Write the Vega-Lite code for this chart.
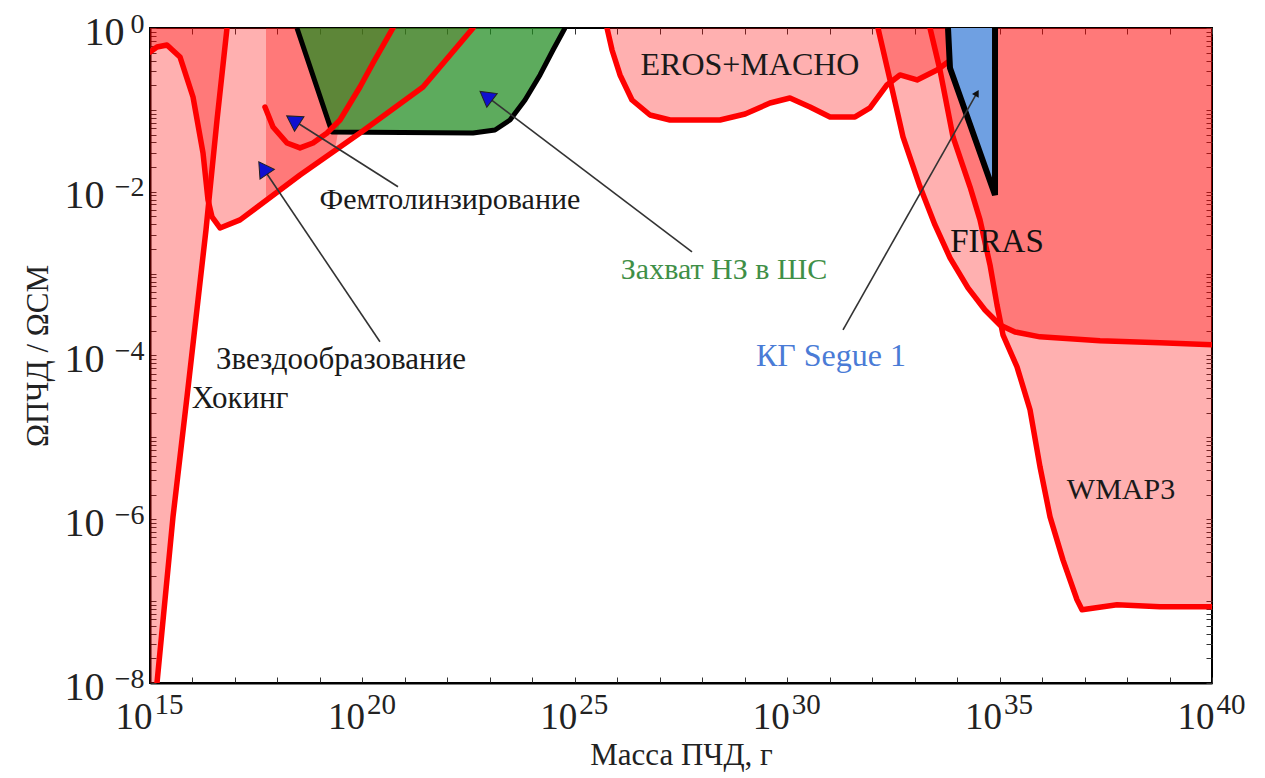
{
  "$schema": "https://vega.github.io/schema/vega-lite/v6.json",
  "width": 1062,
  "height": 655,
  "autosize": {"type": "none"},
  "padding": {"left": 150, "top": 28, "right": 53, "bottom": 95},
  "background": "white",
  "config": {
    "view": {"stroke": "black", "strokeWidth": 2},
    "axis": {"labelFont": "Liberation Serif", "titleFont": "Liberation Serif", "labelColor": "#222", "titleColor": "#222", "titleFontWeight": "normal", "grid": false, "domainColor": "black", "domainWidth": 2, "tickColor": "#333", "tickWidth": 1, "labelOverlap": false, "labelFlush": false, "labelBound": false}
  },
  "resolve": {"axis": {"x": "independent", "y": "independent"}},
  "datasets": {
    "polys": [
      {"poly": "hawk", "i": 0, "m": 1e15, "o": 1e-8},
      {"poly": "hawk", "i": 1, "m": 1.46e15, "o": 1e-8},
      {"poly": "hawk", "i": 2, "m": 3.48e15, "o": 1.07e-6},
      {"poly": "hawk", "i": 3, "m": 7.43e15, "o": 3.12e-5},
      {"poly": "hawk", "i": 4, "m": 1.35e16, "o": 4.77e-4},
      {"poly": "hawk", "i": 5, "m": 2.08e16, "o": 3.42e-3},
      {"poly": "hawk", "i": 6, "m": 2.58e16, "o": 1.05e-2},
      {"poly": "hawk", "i": 7, "m": 3.78e16, "o": 7.53e-2},
      {"poly": "hawk", "i": 8, "m": 6.5e16, "o": 1},
      {"poly": "hawk", "i": 9, "m": 1e15, "o": 1},
      {"poly": "sf", "i": 0, "m": 1e15, "o": 1},
      {"poly": "sf", "i": 1, "m": 1e15, "o": 0.509},
      {"poly": "sf", "i": 2, "m": 1.46e15, "o": 0.586},
      {"poly": "sf", "i": 3, "m": 2.51e15, "o": 0.62},
      {"poly": "sf", "i": 4, "m": 5.08e15, "o": 0.443},
      {"poly": "sf", "i": 5, "m": 1.03e16, "o": 0.1437},
      {"poly": "sf", "i": 6, "m": 1.77e16, "o": 2.98e-2},
      {"poly": "sf", "i": 7, "m": 2.32e16, "o": 7.94e-3},
      {"poly": "sf", "i": 8, "m": 2.88e16, "o": 4.92e-3},
      {"poly": "sf", "i": 9, "m": 4.45e16, "o": 3.61e-3},
      {"poly": "sf", "i": 10, "m": 1.32e17, "o": 4.53e-3},
      {"poly": "sf", "i": 11, "m": 3.4e18, "o": 1.6e-2},
      {"poly": "sf", "i": 12, "m": 8.77e19, "o": 5.22e-2},
      {"poly": "sf", "i": 13, "m": 2.67e21, "o": 0.1905},
      {"poly": "sf", "i": 14, "m": 4.02e22, "o": 1},
      {"poly": "femto", "i": 0, "m": 5.38e17, "o": 1},
      {"poly": "femto", "i": 1, "m": 5.38e17, "o": 7.72e-3},
      {"poly": "femto", "i": 2, "m": 2.26e19, "o": 3.24e-2},
      {"poly": "femto", "i": 3, "m": 2.97e19, "o": 7.53e-2},
      {"poly": "femto", "i": 4, "m": 8.77e19, "o": 0.1905},
      {"poly": "femto", "i": 5, "m": 1.78e20, "o": 0.374},
      {"poly": "femto", "i": 6, "m": 5.25e20, "o": 1},
      {"poly": "eros", "i": 0, "m": 5.73e25, "o": 1},
      {"poly": "eros", "i": 1, "m": 7.52e25, "o": 0.539},
      {"poly": "eros", "i": 2, "m": 1.16e26, "o": 0.267},
      {"poly": "eros", "i": 3, "m": 2.22e26, "o": 0.132},
      {"poly": "eros", "i": 4, "m": 5.89e26, "o": 8.66e-2},
      {"poly": "eros", "i": 5, "m": 1.74e27, "o": 7.53e-2},
      {"poly": "eros", "i": 6, "m": 2.62e28, "o": 7.53e-2},
      {"poly": "eros", "i": 7, "m": 1.02e29, "o": 8.91e-2},
      {"poly": "eros", "i": 8, "m": 3.94e29, "o": 0.1214},
      {"poly": "eros", "i": 9, "m": 1.16e30, "o": 0.1397},
      {"poly": "eros", "i": 10, "m": 3.44e30, "o": 0.1085},
      {"poly": "eros", "i": 11, "m": 1.02e31, "o": 8.19e-2},
      {"poly": "eros", "i": 12, "m": 3.95e31, "o": 8.19e-2},
      {"poly": "eros", "i": 13, "m": 8.89e31, "o": 0.1055},
      {"poly": "eros", "i": 14, "m": 2.23e32, "o": 0.2014},
      {"poly": "eros", "i": 15, "m": 4.52e32, "o": 0.267},
      {"poly": "eros", "i": 16, "m": 1.14e33, "o": 0.232},
      {"poly": "eros", "i": 17, "m": 3.36e33, "o": 0.307},
      {"poly": "eros", "i": 18, "m": 6.1e33, "o": 0.385},
      {"poly": "eros", "i": 19, "m": 6.1e33, "o": 1},
      {"poly": "firas", "i": 0, "m": 1.37e32, "o": 1},
      {"poly": "firas", "i": 1, "m": 2.63e32, "o": 0.232},
      {"poly": "firas", "i": 2, "m": 5.32e32, "o": 4.67e-2},
      {"poly": "firas", "i": 3, "m": 1.34e33, "o": 1.15e-2},
      {"poly": "firas", "i": 4, "m": 3.01e33, "o": 3.93e-3},
      {"poly": "firas", "i": 5, "m": 6.79e33, "o": 1.56e-3},
      {"poly": "firas", "i": 6, "m": 1.8e34, "o": 6.69e-4},
      {"poly": "firas", "i": 7, "m": 4.53e34, "o": 3.6e-4},
      {"poly": "firas", "i": 8, "m": 1.02e35, "o": 2.36e-4},
      {"poly": "firas", "i": 9, "m": 2.31e35, "o": 1.94e-4},
      {"poly": "firas", "i": 10, "m": 8.94e35, "o": 1.69e-4},
      {"poly": "firas", "i": 11, "m": 2.31e37, "o": 1.51e-4},
      {"poly": "firas", "i": 12, "m": 5.97e38, "o": 1.43e-4},
      {"poly": "firas", "i": 13, "m": 1e40, "o": 1.35e-4},
      {"poly": "firas", "i": 14, "m": 1e40, "o": 1},
      {"poly": "wmap", "i": 0, "m": 2.3e33, "o": 1},
      {"poly": "wmap", "i": 1, "m": 3.95e33, "o": 0.307},
      {"poly": "wmap", "i": 2, "m": 8.0e33, "o": 4.67e-2},
      {"poly": "wmap", "i": 3, "m": 2.01e34, "o": 1.15e-2},
      {"poly": "wmap", "i": 4, "m": 3.46e34, "o": 4.53e-3},
      {"poly": "wmap", "i": 5, "m": 5.94e34, "o": 1.28e-3},
      {"poly": "wmap", "i": 6, "m": 8.69e34, "o": 4.15e-4},
      {"poly": "wmap", "i": 7, "m": 1.2e35, "o": 1.79e-4},
      {"poly": "wmap", "i": 8, "m": 2.57e35, "o": 7.26e-5},
      {"poly": "wmap", "i": 9, "m": 5.2e35, "o": 2.17e-5},
      {"poly": "wmap", "i": 10, "m": 8.94e35, "o": 4.36e-6},
      {"poly": "wmap", "i": 11, "m": 1.54e36, "o": 1.07e-6},
      {"poly": "wmap", "i": 12, "m": 3.1e36, "o": 3.19e-7},
      {"poly": "wmap", "i": 13, "m": 6.64e36, "o": 1.04e-7},
      {"poly": "wmap", "i": 14, "m": 8.71e36, "o": 7.83e-8},
      {"poly": "wmap", "i": 15, "m": 5.81e37, "o": 9.02e-8},
      {"poly": "wmap", "i": 16, "m": 5.97e38, "o": 8.51e-8},
      {"poly": "wmap", "i": 17, "m": 1e40, "o": 8.51e-8},
      {"poly": "wmap", "i": 18, "m": 1e40, "o": 1}
    ],
    "lines": [
      {"line": "hawk", "i": 0, "m": 1.46e15, "o": 1e-8},
      {"line": "hawk", "i": 1, "m": 3.48e15, "o": 1.07e-6},
      {"line": "hawk", "i": 2, "m": 7.43e15, "o": 3.12e-5},
      {"line": "hawk", "i": 3, "m": 1.35e16, "o": 4.77e-4},
      {"line": "hawk", "i": 4, "m": 2.08e16, "o": 3.42e-3},
      {"line": "hawk", "i": 5, "m": 2.58e16, "o": 1.05e-2},
      {"line": "hawk", "i": 6, "m": 3.78e16, "o": 7.53e-2},
      {"line": "hawk", "i": 7, "m": 6.5e16, "o": 1},
      {"line": "sf", "i": 0, "m": 1e15, "o": 0.509},
      {"line": "sf", "i": 1, "m": 1.46e15, "o": 0.586},
      {"line": "sf", "i": 2, "m": 2.51e15, "o": 0.62},
      {"line": "sf", "i": 3, "m": 5.08e15, "o": 0.443},
      {"line": "sf", "i": 4, "m": 1.03e16, "o": 0.1437},
      {"line": "sf", "i": 5, "m": 1.77e16, "o": 2.98e-2},
      {"line": "sf", "i": 6, "m": 2.32e16, "o": 7.94e-3},
      {"line": "sf", "i": 7, "m": 2.88e16, "o": 4.92e-3},
      {"line": "sf", "i": 8, "m": 4.45e16, "o": 3.61e-3},
      {"line": "sf", "i": 9, "m": 1.32e17, "o": 4.53e-3},
      {"line": "sf", "i": 10, "m": 3.4e18, "o": 1.6e-2},
      {"line": "sf", "i": 11, "m": 8.77e19, "o": 5.22e-2},
      {"line": "sf", "i": 12, "m": 2.67e21, "o": 0.1905},
      {"line": "sf", "i": 13, "m": 4.02e22, "o": 1},
      {"line": "femto", "i": 0, "m": 5.09e17, "o": 0.1085},
      {"line": "femto", "i": 1, "m": 7.87e17, "o": 6.18e-2},
      {"line": "femto", "i": 2, "m": 1.68e18, "o": 3.94e-2},
      {"line": "femto", "i": 3, "m": 3.4e18, "o": 3.43e-2},
      {"line": "femto", "i": 4, "m": 6.87e18, "o": 3.94e-2},
      {"line": "femto", "i": 5, "m": 1.47e19, "o": 5.22e-2},
      {"line": "femto", "i": 6, "m": 2.97e19, "o": 7.53e-2},
      {"line": "femto", "i": 7, "m": 8.77e19, "o": 0.1905},
      {"line": "femto", "i": 8, "m": 1.78e20, "o": 0.374},
      {"line": "femto", "i": 9, "m": 5.25e20, "o": 1},
      {"line": "eros", "i": 0, "m": 5.73e25, "o": 1},
      {"line": "eros", "i": 1, "m": 7.52e25, "o": 0.539},
      {"line": "eros", "i": 2, "m": 1.16e26, "o": 0.267},
      {"line": "eros", "i": 3, "m": 2.22e26, "o": 0.132},
      {"line": "eros", "i": 4, "m": 5.89e26, "o": 8.66e-2},
      {"line": "eros", "i": 5, "m": 1.74e27, "o": 7.53e-2},
      {"line": "eros", "i": 6, "m": 2.62e28, "o": 7.53e-2},
      {"line": "eros", "i": 7, "m": 1.02e29, "o": 8.91e-2},
      {"line": "eros", "i": 8, "m": 3.94e29, "o": 0.1214},
      {"line": "eros", "i": 9, "m": 1.16e30, "o": 0.1397},
      {"line": "eros", "i": 10, "m": 3.44e30, "o": 0.1085},
      {"line": "eros", "i": 11, "m": 1.02e31, "o": 8.19e-2},
      {"line": "eros", "i": 12, "m": 3.95e31, "o": 8.19e-2},
      {"line": "eros", "i": 13, "m": 8.89e31, "o": 0.1055},
      {"line": "eros", "i": 14, "m": 2.23e32, "o": 0.2014},
      {"line": "eros", "i": 15, "m": 4.52e32, "o": 0.267},
      {"line": "eros", "i": 16, "m": 1.14e33, "o": 0.232},
      {"line": "eros", "i": 17, "m": 3.36e33, "o": 0.307},
      {"line": "eros", "i": 18, "m": 6.1e33, "o": 0.385},
      {"line": "firas", "i": 0, "m": 1.37e32, "o": 1},
      {"line": "firas", "i": 1, "m": 2.63e32, "o": 0.232},
      {"line": "firas", "i": 2, "m": 5.32e32, "o": 4.67e-2},
      {"line": "firas", "i": 3, "m": 1.34e33, "o": 1.15e-2},
      {"line": "firas", "i": 4, "m": 3.01e33, "o": 3.93e-3},
      {"line": "firas", "i": 5, "m": 6.79e33, "o": 1.56e-3},
      {"line": "firas", "i": 6, "m": 1.8e34, "o": 6.69e-4},
      {"line": "firas", "i": 7, "m": 4.53e34, "o": 3.6e-4},
      {"line": "firas", "i": 8, "m": 1.02e35, "o": 2.36e-4},
      {"line": "firas", "i": 9, "m": 2.31e35, "o": 1.94e-4},
      {"line": "firas", "i": 10, "m": 8.94e35, "o": 1.69e-4},
      {"line": "firas", "i": 11, "m": 2.31e37, "o": 1.51e-4},
      {"line": "firas", "i": 12, "m": 5.97e38, "o": 1.43e-4},
      {"line": "firas", "i": 13, "m": 1e40, "o": 1.35e-4},
      {"line": "wmap", "i": 0, "m": 2.3e33, "o": 1},
      {"line": "wmap", "i": 1, "m": 3.95e33, "o": 0.307},
      {"line": "wmap", "i": 2, "m": 8.0e33, "o": 4.67e-2},
      {"line": "wmap", "i": 3, "m": 2.01e34, "o": 1.15e-2},
      {"line": "wmap", "i": 4, "m": 3.46e34, "o": 4.53e-3},
      {"line": "wmap", "i": 5, "m": 5.94e34, "o": 1.28e-3},
      {"line": "wmap", "i": 6, "m": 8.69e34, "o": 4.15e-4},
      {"line": "wmap", "i": 7, "m": 1.2e35, "o": 1.79e-4},
      {"line": "wmap", "i": 8, "m": 2.57e35, "o": 7.26e-5},
      {"line": "wmap", "i": 9, "m": 5.2e35, "o": 2.17e-5},
      {"line": "wmap", "i": 10, "m": 8.94e35, "o": 4.36e-6},
      {"line": "wmap", "i": 11, "m": 1.54e36, "o": 1.07e-6},
      {"line": "wmap", "i": 12, "m": 3.1e36, "o": 3.19e-7},
      {"line": "wmap", "i": 13, "m": 6.64e36, "o": 1.04e-7},
      {"line": "wmap", "i": 14, "m": 8.71e36, "o": 7.83e-8},
      {"line": "wmap", "i": 15, "m": 5.81e37, "o": 9.02e-8},
      {"line": "wmap", "i": 16, "m": 5.97e38, "o": 8.51e-8},
      {"line": "wmap", "i": 17, "m": 1e40, "o": 8.51e-8}
    ],
    "ns": [
      {"i": 0, "m": 2.88e18, "o": 1},
      {"i": 1, "m": 1.92e19, "o": 5.37e-2},
      {"i": 2, "m": 4.02e22, "o": 5.22e-2},
      {"i": 3, "m": 1.32e23, "o": 5.68e-2},
      {"i": 4, "m": 2.98e23, "o": 7.53e-2},
      {"i": 5, "m": 6.73e23, "o": 0.132},
      {"i": 6, "m": 1.52e24, "o": 0.267},
      {"i": 7, "m": 3.07e24, "o": 0.539},
      {"i": 8, "m": 5.87e24, "o": 1}
    ],
    "segue": [
      {"i": 0, "m": 6.1e33, "o": 1},
      {"i": 1, "m": 6.79e33, "o": 0.325},
      {"i": 2, "m": 7.8e34, "o": 9.14e-3},
      {"i": 3, "m": 7.8e34, "o": 1}
    ],
    "arrows": [
      {"id": "sf", "m": 4.57e17, "o": 1.95e-2, "m2": 2.59e20, "o2": 1.47e-4},
      {"id": "femto", "m": 2.32e18, "o": 7.53e-2, "m2": 6.89e20, "o2": 1.15e-2},
      {"id": "ns", "m": 8.13e22, "o": 0.148, "m2": 5.74e27, "o2": 1.84e-3},
      {"id": "segue", "m": 2.94e34, "o": 0.161, "m2": 2.06e31, "o2": 2.06e-4}
    ],
    "labels": [
      {"label": "EROS+MACHO", "m": 1.33e29, "o": 0.353},
      {"label": "Фемтолинзирование", "m": 1.15e22, "o": 7.94e-3},
      {"label": "Захват НЗ в ШС", "m": 3.25e28, "o": 1.11e-3},
      {"label": "FIRAS", "m": 8.69e34, "o": 2.44e-3},
      {"label": "КГ Segue 1", "m": 1.07e31, "o": 9.89e-5},
      {"label": "Звездообразование", "m": 3.13e19, "o": 8.83e-5},
      {"label": "Хокинг", "m": 1.32e17, "o": 2.95e-5},
      {"label": "WMAP3", "m": 7.21e37, "o": 2.29e-6}
    ]
  },
  "encoding": {
    "x": {"field": "m", "type": "quantitative", "scale": {"type": "log", "domain": [1e15, 1e40], "nice": false}, "axis": null},
    "y": {"field": "o", "type": "quantitative", "scale": {"type": "log", "domain": [1e-8, 1], "nice": false}, "axis": null}
  },
  "layer": [
    {
      "data": {"name": "polys"},
      "mark": {"type": "line", "fill": "#ff0000", "fillOpacity": 0.31, "strokeWidth": 0, "strokeOpacity": 0, "clip": true},
      "encoding": {
        "x": {
          "field": "m", "type": "quantitative",
          "scale": {"type": "log", "domain": [1e15, 1e40], "nice": false},
          "axis": {
            "title": "Масса ПЧД, г", "titleFontSize": 31, "titlePadding": 5,
            "values": [1e15, 1e16, 1e17, 1e18, 1e19, 1e20, 1e21, 1e22, 1e23, 1e24, 1e25, 1e26, 1e27, 1e28, 1e29, 1e30, 1e31, 1e32, 1e33, 1e34, 1e35, 1e36, 1e37, 1e38, 1e39, 1e40],
            "labelExpr": "round(log(datum.value)/LN10)%5==0?'10':''",
            "labelFontSize": 37, "labelAlign": "right", "labelBaseline": "alphabetic", "labelOffset": 2,
            "tickSize": -6, "labelPadding": 51
          }
        },
        "y": {
          "field": "o", "type": "quantitative",
          "scale": {"type": "log", "domain": [1e-8, 1], "nice": false},
          "axis": {
            "title": "ΩПЧД / ΩСМ", "titleFontSize": 31, "titlePadding": 10,
            "values": [1e-8, 2e-8, 3e-8, 4e-8, 5e-8, 6e-8, 7e-8, 8e-8, 9e-8, 1e-7, 2e-7, 3e-7, 4e-7, 5e-7, 6e-7, 7e-7, 8e-7, 9e-7, 1e-6, 2e-6, 3e-6, 4e-6, 5e-6, 6e-6, 7e-6, 8e-6, 9e-6, 1e-5, 2e-5, 3e-5, 4e-5, 5e-5, 6e-5, 7e-5, 8e-5, 9e-5, 1e-4, 2e-4, 3e-4, 4e-4, 5e-4, 6e-4, 7e-4, 8e-4, 9e-4, 0.001, 0.002, 0.003, 0.004, 0.005, 0.006, 0.007, 0.008, 0.009, 0.01, 0.02, 0.03, 0.04, 0.05, 0.06, 0.07, 0.08, 0.09, 0.1, 0.2, 0.3, 0.4, 0.5, 0.6, 0.7, 0.8, 0.9, 1],
            "labelExpr": "(abs(log(datum.value)/LN10-round(log(datum.value)/LN10))<0.001 && round(log(datum.value)/LN10)%2==0)?'10':''",
            "labelFontSize": 40, "labelAlign": "right", "labelBaseline": "middle", "labelOffset": 4,
            "tickSize": -6,
            "labelPadding": {"condition": {"test": "datum.value > 0.5", "value": 32}, "value": 52}
          }
        },
        "detail": {"field": "poly"},
        "order": {"field": "i", "type": "quantitative"}
      }
    },
    {
      "data": {"name": "ns"},
      "mark": {"type": "line", "fill": "#1f8a1f", "fillOpacity": 0.72, "stroke": "black", "strokeWidth": 5, "strokeJoin": "round", "clip": true},
      "encoding": {"order": {"field": "i", "type": "quantitative"}}
    },
    {
      "data": {"name": "lines"},
      "mark": {"type": "line", "color": "#ff0000", "strokeWidth": 5.5, "strokeJoin": "round", "strokeCap": "round", "clip": true},
      "encoding": {"detail": {"field": "line"}, "order": {"field": "i", "type": "quantitative"}}
    },
    {
      "data": {"name": "segue"},
      "mark": {"type": "line", "fill": "#6fa0e2", "fillOpacity": 1, "stroke": "black", "strokeWidth": 6, "strokeJoin": "miter", "clip": true},
      "encoding": {
        "x": {
          "field": "m", "type": "quantitative",
          "scale": {"type": "log", "domain": [1e15, 1e40], "nice": false},
          "axis": {"orient": "top", "title": null, "labels": false, "domain": false, "tickSize": -6,
            "values": [1e15, 1e16, 1e17, 1e18, 1e19, 1e20, 1e21, 1e22, 1e23, 1e24, 1e25, 1e26, 1e27, 1e28, 1e29, 1e30, 1e31, 1e32, 1e33, 1e34, 1e35, 1e36, 1e37, 1e38, 1e39, 1e40]}
        },
        "y": {
          "field": "o", "type": "quantitative",
          "scale": {"type": "log", "domain": [1e-8, 1], "nice": false},
          "axis": {"orient": "right", "title": null, "labels": false, "domain": false, "tickSize": -6,
            "values": [1e-8, 2e-8, 3e-8, 4e-8, 5e-8, 6e-8, 7e-8, 8e-8, 9e-8, 1e-7, 2e-7, 3e-7, 4e-7, 5e-7, 6e-7, 7e-7, 8e-7, 9e-7, 1e-6, 2e-6, 3e-6, 4e-6, 5e-6, 6e-6, 7e-6, 8e-6, 9e-6, 1e-5, 2e-5, 3e-5, 4e-5, 5e-5, 6e-5, 7e-5, 8e-5, 9e-5, 1e-4, 2e-4, 3e-4, 4e-4, 5e-4, 6e-4, 7e-4, 8e-4, 9e-4, 0.001, 0.002, 0.003, 0.004, 0.005, 0.006, 0.007, 0.008, 0.009, 0.01, 0.02, 0.03, 0.04, 0.05, 0.06, 0.07, 0.08, 0.09, 0.1, 0.2, 0.3, 0.4, 0.5, 0.6, 0.7, 0.8, 0.9, 1]}
        },
        "order": {"field": "i", "type": "quantitative"}
      }
    },
    {
      "data": {"name": "arrows"},
      "mark": {"type": "rule", "color": "#333", "strokeWidth": 1.6},
      "encoding": {
        "x": {
          "field": "m", "type": "quantitative",
          "scale": {"type": "log", "domain": [1e15, 1e40], "nice": false},
          "axis": {"title": null, "ticks": false, "domain": false,
            "values": [1e15, 1e20, 1e25, 1e30, 1e35, 1e40],
            "labelExpr": "'' + round(log(datum.value)/LN10)",
            "labelFontSize": 29, "labelAlign": "left", "labelBaseline": "alphabetic", "labelOffset": 4, "labelPadding": 30}
        },
        "y": {
          "field": "o", "type": "quantitative",
          "scale": {"type": "log", "domain": [1e-8, 1], "nice": false},
          "axis": {"title": null, "ticks": false, "domain": false,
            "values": [1e-8, 1e-6, 1e-4, 0.01, 1],
            "labelExpr": "round(log(datum.value)/LN10)==0?'0':'−' + abs(round(log(datum.value)/LN10))",
            "labelFontSize": 28, "labelAlign": "right", "labelBaseline": "middle", "labelOffset": -4, "labelPadding": 6}
        },
        "x2": {"field": "m2"}, "y2": {"field": "o2"}
      }
    },
    {
      "data": {"name": "arrows"},
      "transform": [{"filter": "datum.id == 'sf'"}],
      "mark": {"type": "point", "shape": "triangle-up", "filled": true, "fill": "#1010d0", "stroke": "#222", "strokeWidth": 1, "size": 300, "angle": -34, "opacity": 1}
    },
    {
      "data": {"name": "arrows"},
      "transform": [{"filter": "datum.id == 'femto'"}],
      "mark": {"type": "point", "shape": "triangle-up", "filled": true, "fill": "#1010d0", "stroke": "#222", "strokeWidth": 1, "size": 300, "angle": -57, "opacity": 1}
    },
    {
      "data": {"name": "arrows"},
      "transform": [{"filter": "datum.id == 'ns'"}],
      "mark": {"type": "point", "shape": "triangle-up", "filled": true, "fill": "#1010d0", "stroke": "#222", "strokeWidth": 1, "size": 300, "angle": -53, "opacity": 1}
    },
    {
      "data": {"name": "arrows"},
      "transform": [{"filter": "datum.id == 'segue'"}],
      "mark": {"type": "point", "shape": "triangle-up", "filled": true, "fill": "#111", "size": 60, "angle": 30, "opacity": 1}
    },
    {
      "data": {"name": "labels"},
      "transform": [{"filter": {"field": "label", "oneOf": ["Фемтолинзирование", "WMAP3"]}}],
      "mark": {"type": "text", "font": "Liberation Serif", "fontSize": 30, "color": "#1a1a1a", "align": "center", "baseline": "middle"},
      "encoding": {"text": {"field": "label"}}
    },
    {
      "data": {"name": "labels"},
      "transform": [{"filter": {"field": "label", "oneOf": ["Звездообразование", "Хокинг"]}}],
      "mark": {"type": "text", "font": "Liberation Serif", "fontSize": 31, "color": "#1a1a1a", "align": "center", "baseline": "middle"},
      "encoding": {"text": {"field": "label"}}
    },
    {
      "data": {"name": "labels"},
      "transform": [{"filter": "datum.label == 'EROS+MACHO'"}],
      "mark": {"type": "text", "font": "Liberation Serif", "fontSize": 32, "color": "#1a1a1a", "align": "center", "baseline": "middle"},
      "encoding": {"text": {"field": "label"}}
    },
    {
      "data": {"name": "labels"},
      "transform": [{"filter": "datum.label == 'FIRAS'"}],
      "mark": {"type": "text", "font": "Liberation Serif", "fontSize": 33, "color": "#111", "align": "center", "baseline": "middle"},
      "encoding": {"text": {"field": "label"}}
    },
    {
      "data": {"name": "labels"},
      "transform": [{"filter": "datum.label == 'Захват НЗ в ШС'"}],
      "mark": {"type": "text", "font": "Liberation Serif", "fontSize": 30, "color": "#3f8f47", "align": "center", "baseline": "middle"},
      "encoding": {"text": {"field": "label"}}
    },
    {
      "data": {"name": "labels"},
      "transform": [{"filter": "datum.label == 'КГ Segue 1'"}],
      "mark": {"type": "text", "font": "Liberation Serif", "fontSize": 32, "color": "#4a7bd6", "align": "center", "baseline": "middle"},
      "encoding": {"text": {"field": "label"}}
    }
  ]
}
